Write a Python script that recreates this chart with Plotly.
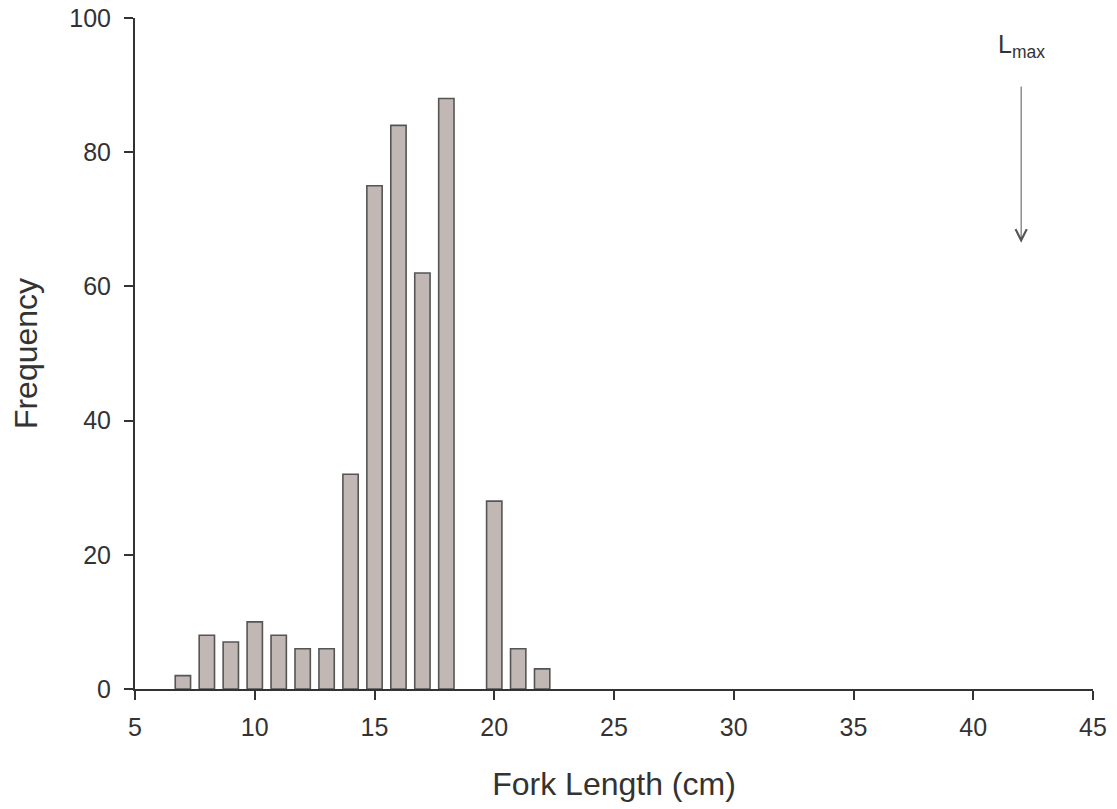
import plotly.graph_objects as go

# Data
fork_length = [7, 8, 9, 10, 11, 12, 13, 14, 15, 16, 17, 18, 20, 21, 22]
frequency = [2, 8, 7, 10, 8, 6, 6, 32, 75, 84, 62, 88, 28, 6, 3]
x_ticks = [5, 10, 15, 20, 25, 30, 35, 40, 45]
y_ticks = [0, 20, 40, 60, 80, 100]
lmax_x = 42
lmax_arrow_top = 90
lmax_arrow_tip = 66.5
lmax_label_y = 95.8

FONT = "Liberation Sans"

fig = go.Figure()
fig.add_trace(go.Bar(
    x=fork_length, y=frequency, width=0.64,
    marker=dict(color="#c1b8b6", line=dict(color="#555555", width=1.6)),
))

fig.add_annotation(
    x=lmax_x, y=lmax_arrow_tip, ax=lmax_x, ay=lmax_arrow_top,
    xref="x", yref="y", axref="x", ayref="y",
    text="", showarrow=True, arrowhead=5, arrowsize=2.2, arrowwidth=1,
    arrowcolor="#555555",
)
fig.add_annotation(
    x=lmax_x, y=lmax_label_y, xref="x", yref="y",
    text="L<sub>max</sub>", showarrow=False,
    font=dict(family=FONT, size=25, color="#333333"),
)

fig.update_layout(
    width=1117, height=809,
    margin=dict(l=135, r=24, t=18, b=120),
    plot_bgcolor="white", paper_bgcolor="white",
    showlegend=False,
    font=dict(family=FONT, size=25, color="#333333"),
    xaxis=dict(
        range=[5, 45], tickvals=x_ticks, ticks="outside", ticklen=9, tickwidth=2,
        tickcolor="#333333", showline=True, linecolor="#333333", linewidth=2,
        showgrid=False, zeroline=False, automargin=False, ticklabelstandoff=6,
        tickfont=dict(size=25, family=FONT, color="#333333"),
        title=dict(text="Fork Length (cm)", font=dict(size=32, family=FONT, color="#333333"), standoff=33),
    ),
    yaxis=dict(
        range=[0, 100], tickvals=y_ticks, ticks="outside", ticklen=9, tickwidth=2,
        tickcolor="#333333", showline=True, linecolor="#333333", linewidth=2,
        showgrid=False, zeroline=False, automargin=False, ticklabelstandoff=8,
        tickfont=dict(size=25, family=FONT, color="#333333"),
        title=dict(text="Frequency", font=dict(size=32, family=FONT, color="#333333"), standoff=22),
    ),
)

fig.write_html("out.html")
